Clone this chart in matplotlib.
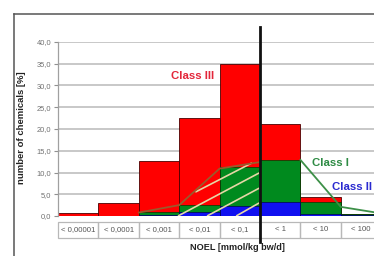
import matplotlib
matplotlib.use("Agg")
import matplotlib.pyplot as plt
from matplotlib.patches import Rectangle
from matplotlib.lines import Line2D
import matplotlib.transforms as mtransforms

# ---- data ----
categories = ["< 0,00001", "< 0,0001", "< 0,001", "< 0,01", "< 0,1", "< 1", "< 10", "< 100"]
class3 = [0.6, 3.0, 12.6, 22.5, 35.0, 21.1, 4.4, 0.5]   # red
class1 = [0.0, 0.0, 0.9, 2.5, 11.3, 12.9, 3.3, 0.5]     # green
class2 = [0.0, 0.0, 0.3, 0.9, 2.3, 3.3, 0.5, 0.2]       # blue

# Class I trend line (bin edges)
trend_left_x = [2, 3, 4, 5]
trend_left_y = [0.8, 2.5, 10.9, 12.4]
trend_right_x = [6, 7, 8]
trend_right_y = [12.9, 2.1, 0.6]

# decorative diagonal hatch strokes (x0, y0, x1, y1)
hatch_x0 = [3.40, 2.97, 3.69, 4.41]
hatch_y0 = [5.5, 0.0, 0.0, 0.0]
hatch_x1 = [4.80, 4.98, 4.98, 4.98]
hatch_y1 = [12.2, 9.9, 6.4, 3.0]

yticks = [0, 5, 10, 15, 20, 25, 30, 35, 40]
ytick_labels = ["0,0", "5,0", "10,0", "15,0", "20,0", "25,0", "30,0", "35,0", "40,0"]
NOEL_boundary = 5

FONT = "Liberation Sans"

W, H = 374, 256
fig = plt.figure(figsize=(W / 100, H / 100), dpi=100)
fig.patch.set_facecolor("white")

ax_left, ax_bottom_px, ax_top_px = 58, 216, 42
ax_w_px = 9 * 40.4
ax = fig.add_axes([ax_left / W, (H - ax_bottom_px) / H, ax_w_px / W,
                   (ax_bottom_px - ax_top_px) / H])
ax.set_xlim(0, 9)
ax.set_ylim(0, 40)

# gridlines
ax.set_yticks(yticks)
ax.set_yticklabels(ytick_labels, fontfamily=FONT, fontsize=5.4, color="#707070")
ax.yaxis.grid(True, color="#c8c8c8", linewidth=1.4, zorder=0)
ax.set_axisbelow(True)
ax.tick_params(axis="y", length=3, width=0.8, color="#909090", pad=2)
ax.set_xticks([])
for s in ["top", "right", "bottom"]:
    ax.spines[s].set_visible(False)
ax.spines["left"].set_color("#a0a0a0")
ax.spines["left"].set_linewidth(0.9)

x = [i + 0.5 for i in range(len(categories))]
ax.bar(x, class3, width=1.0, color="#ff0000", edgecolor="#4a0000", linewidth=0.6, zorder=2)
ax.bar(x, class1, width=1.0, color="#008a1e", edgecolor="#003a00", linewidth=0.5, zorder=3)
ax.bar(x, class2, width=1.0, color="#1010f0", edgecolor="#000050", linewidth=0.5, zorder=4)

# hatch strokes
for a, b, c, d in zip(hatch_x0, hatch_y0, hatch_x1, hatch_y1):
    ax.plot([a, c], [b, d], color="#e6d7a6", linewidth=1.2, zorder=5, solid_capstyle="butt")

# trend lines
ax.plot(trend_left_x, trend_left_y, color="#9a5a2c", linewidth=1.3, zorder=6)
ax.plot(trend_right_x, trend_right_y, color="#3d9048", linewidth=1.3, zorder=6)

# vertical NOEL boundary line
btrans = mtransforms.blended_transform_factory(ax.transData, ax.transAxes)
ax.plot([NOEL_boundary, NOEL_boundary], [-0.15, 1.087], transform=btrans,
        color="#111111", linewidth=2.0, clip_on=False, zorder=10)

# category table
cell_top, cell_bot = -0.034, -0.126
for i, lab in enumerate(categories):
    ax.add_patch(Rectangle((i, cell_bot), 1, cell_top - cell_bot, transform=btrans,
                           fill=False, edgecolor="#b8b8b8", linewidth=0.9, clip_on=False))
    ax.text(i + 0.5, (cell_top + cell_bot) / 2, lab, transform=btrans,
            ha="center", va="center", fontsize=5.6, color="#555555", fontfamily=FONT)

# class labels
ax.text(3.34, 32.2, "Class III", color="#e3263a", fontsize=8.2, fontweight="bold",
        fontfamily=FONT, ha="center", va="center", zorder=11)
ax.text(6.75, 12.2, "Class I", color="#2e8b44", fontsize=8.2, fontweight="bold",
        fontfamily=FONT, ha="center", va="center", zorder=11)
ax.text(7.28, 6.7, "Class II", color="#2a2ad0", fontsize=8.2, fontweight="bold",
        fontfamily=FONT, ha="center", va="center", zorder=11)

# axis labels
fig.text(237 / W, 1 - 247 / H, "NOEL [mmol/kg bw/d]", fontsize=6.6, fontweight="bold",
         fontfamily=FONT, color="#222222", ha="center", va="center")
fig.text(22 / W, 1 - 128 / H, "number of chemicals [%]", fontsize=6.8, fontweight="bold",
         fontfamily=FONT, color="#222222", ha="center", va="center", rotation=90)

# outer frame
fig.add_artist(Line2D([14 / W, 1.0], [1 - 14 / H, 1 - 14 / H], color="#555555", linewidth=1.1))
fig.add_artist(Line2D([14 / W, 14 / W], [0, 1 - 14 / H], color="#555555", linewidth=1.1))

fig.savefig("out.png", dpi=100)
